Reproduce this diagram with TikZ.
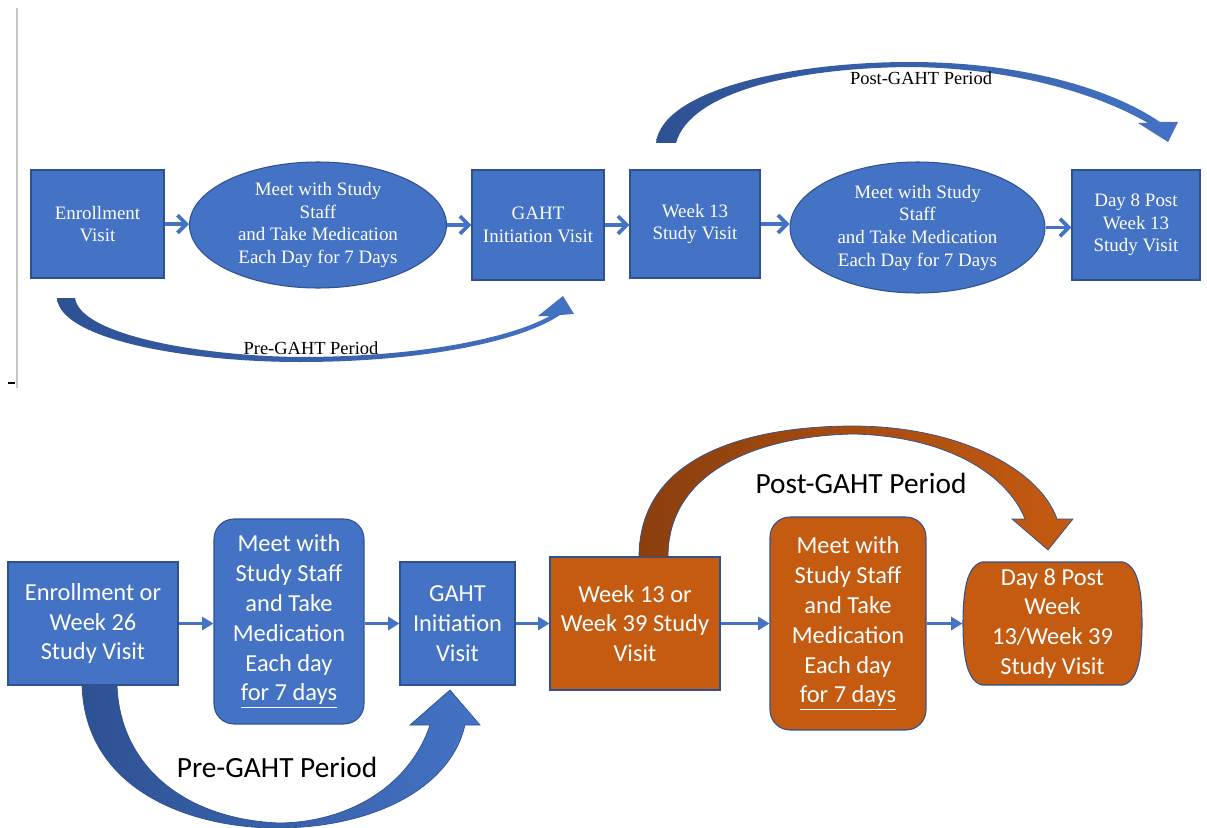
\documentclass[tikz,border=0pt]{standalone}
\usepackage{fontspec}
\setmainfont{Liberation Serif}
\newfontfamily\calibri{Carlito}
\usetikzlibrary{shapes.geometric, arrows.meta, positioning}
\definecolor{boxblue}{HTML}{4472C4}
\definecolor{edgeblue}{HTML}{2F528F}
\definecolor{deepblue}{HTML}{2E5193}
\definecolor{boxorange}{HTML}{C55A11}
\definecolor{deeporange}{HTML}{8A3F0E}
\tikzstyle{arrow} = [line width=2.2pt, boxblue, -{Straight Barb[length=5pt,width=10pt]}]
\tikzstyle{fatarrow} = [line width=1.5pt, boxblue, -{Triangle[length=6.5pt,width=7.5pt]}]

\begin{document}
\begin{tikzpicture}[x=0.02cm, y=-0.02cm,
    visit/.style={rectangle, draw=edgeblue, line width=0.6pt, fill=boxblue, text=white, align=center, inner sep=0pt, font=\fontsize{10.8}{12.9}\selectfont},
    daily/.style={visit, ellipse},
    bigvisit/.style={rectangle, draw=edgeblue, line width=0.6pt, fill=boxblue, text=white, align=center, inner sep=0pt, font=\calibri\fontsize{13.9}{17}\selectfont},
    bigdaily/.style={bigvisit, rounded corners=0.4cm},
    period/.style={font=\fontsize{10.5}{12}\selectfont},
    bigperiod/.style={font=\calibri\fontsize{16.7}{20}\selectfont},
]
\useasboundingbox (0,0) rectangle (1207,828);

% margin rule of the top figure
\draw[black!22, line width=1pt] (17,8) -- (17,388);
\draw[black, line width=1.1pt] (8,383) -- (15,383);

% ---- top figure ----
\node[visit, minimum width=2.66cm, minimum height=2.16cm] (enroll) at (97.5,224) {Enrollment\\Visit};
\node[daily, minimum width=5.14cm, minimum height=2.52cm] (meetA) at (318,225) {Meet with Study\\Staff\\and Take Medication\\Each Day for 7 Days};
\node[visit, minimum width=2.64cm, minimum height=2.2cm] (gahtA) at (538,225) {GAHT\\Initiation Visit};
\node[visit, minimum width=2.6cm, minimum height=2.16cm] (weekA) at (695,224) {Week 13\\Study Visit};
\node[daily, minimum width=5.1cm, minimum height=2.62cm] (meetB) at (917.5,227.5) {Meet with Study\\Staff\\and Take Medication\\Each Day for 7 Days};
\node[visit, minimum width=2.56cm, minimum height=2.2cm] (dayA) at (1136,225) {Day 8 Post\\Week 13\\Study Visit};

\draw[arrow] (enroll.east) -- (enroll.east -| meetA.west);
\draw[arrow] (meetA.east) -- (meetA.east -| gahtA.west);
\draw[arrow] (gahtA.east) -- (gahtA.east -| weekA.west);
\draw[arrow] (weekA.east) -- (weekA.east -| meetB.west);
\draw[arrow] (meetB.east) -- (meetB.east -| dayA.west);

% period arcs
\path[left color=deepblue, right color=boxblue]
  (656,143) .. controls (662,90) and (790,62) .. (910,62)
  .. controls (1020,62) and (1110,88) .. (1160,122) -- (1178,122) -- (1168,142) -- (1138,123) -- (1148,123)
  .. controls (1100,95) and (1015,68) .. (910,67)
  .. controls (795,68) and (690,92) .. (676,143) -- cycle;
\node[period] (postA) at (921,78) {Post-GAHT Period};

\path[left color=deepblue, right color=boxblue]
  (57,298) .. controls (60,340) and (190,362) .. (300,362)
  .. controls (420,362) and (520,342) .. (560,315) -- (574,314) -- (563,296) -- (538,316) -- (550,316)
  .. controls (510,338) and (420,357) .. (300,357)
  .. controls (200,356) and (80,335) .. (75,298) -- cycle;
\node[period] (preA) at (311,348) {Pre-GAHT Period};

% ---- bottom figure ----
\node[bigvisit, minimum width=3.4cm, minimum height=2.46cm] (enrollB) at (93,623.5) {Enrollment or\\Week 26\\Study Visit};
\node[bigdaily, minimum width=3cm, minimum height=4.1cm] (meetC) at (289,621.5) {Meet with\\Study Staff\\and Take\\Medication\\Each day\\\underline{for 7 days}};
\node[bigvisit, minimum width=2.3cm, minimum height=2.46cm] (gahtB) at (457.5,623.5) {GAHT\\Initiation\\Visit};
\node[bigvisit, fill=boxorange, minimum width=3.4cm, minimum height=2.66cm] (weekB) at (635,623.5) {Week 13 or\\Week 39 Study\\Visit};
\node[bigdaily, fill=boxorange, minimum width=3.12cm, minimum height=4.26cm] (meetD) at (848,623.5) {Meet with\\Study Staff\\and Take\\Medication\\Each day\\\underline{for 7 days}};

% terminator outline of the last visit
\path[fill=boxorange, draw=edgeblue, line width=0.6pt]
  (982,562) -- (1123,562) .. controls (1138,566) and (1142,590) .. (1142,623.5)
  .. controls (1142,657) and (1138,681) .. (1123,685) -- (982,685)
  .. controls (967,681) and (963,657) .. (963,623.5)
  .. controls (963,590) and (967,566) .. (982,562) -- cycle;
\node[bigvisit, draw=none, fill=none, minimum width=3.58cm, minimum height=2.46cm] (dayB) at (1052.5,623.5) {Day 8 Post\\Week\\13/Week 39\\Study Visit};

\draw[fatarrow] (enrollB.east) -- (enrollB.east -| meetC.west);
\draw[fatarrow] (meetC.east |- gahtB.west) -- (gahtB.west);
\draw[fatarrow] (gahtB.east) -- (gahtB.east -| weekB.west);
\draw[fatarrow] (weekB.east) -- (weekB.east -| meetD.west);
\draw[fatarrow] (meetD.east) -- (meetD.east -| dayB.west);

% period arcs
\path[left color=deepblue, right color=boxblue, draw=edgeblue, line width=0.4pt]
  (82,685) .. controls (85,790) and (190,828) .. (277,828)
  .. controls (370,828) and (450,790) .. (465,725) -- (480,725) -- (450,690) -- (410,725) -- (430,725)
  .. controls (410,785) and (350,822) .. (280,823)
  .. controls (190,820) and (120,770) .. (117,685) -- cycle;
\node[bigperiod] (preB) at (277,767) {Pre-GAHT Period};

\path[left color=deeporange, right color=boxorange, draw=edgeblue, line width=0.4pt]
  (639,557) .. controls (639,450) and (760,426) .. (853,426)
  .. controls (960,426) and (1040,470) .. (1057,519) -- (1073,519) -- (1048,550) -- (1012,519) -- (1025,519)
  .. controls (1005,470) and (940,436) .. (853,434)
  .. controls (760,436) and (668,470) .. (668,557) -- cycle;
\node[bigperiod] (postB) at (861,483) {Post-GAHT Period};

\end{tikzpicture}
\end{document}
